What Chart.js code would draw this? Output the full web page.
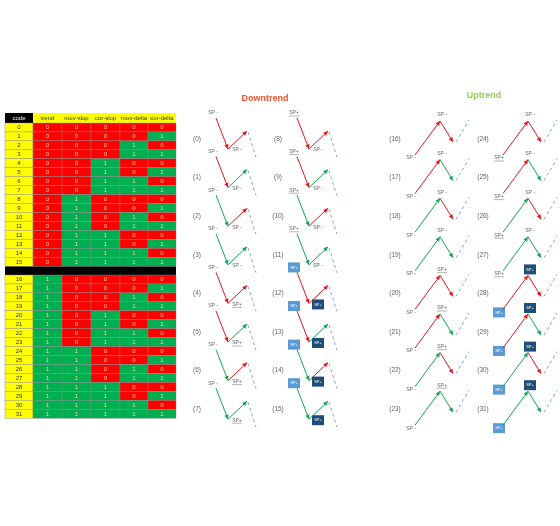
<!DOCTYPE html>
<html><head><meta charset="utf-8">
<script src="https://cdn.jsdelivr.net/npm/chart.js@4"></script>
<style>html,body{margin:0;padding:0;background:#fff}</style>
</head><body>
<canvas id="c" width="560" height="526"></canvas>
<script>
const headers = ['code','trend','mov-slop','cor-slop','mov-delta','cor-delta'];
const codes = Array.from({length:32},(_, i)=>i);
const trend    = [0,0,0,0,0,0,0,0,0,0,0,0,0,0,0,0, 1,1,1,1,1,1,1,1,1,1,1,1,1,1,1,1];
const movSlop  = [0,0,0,0,0,0,0,0,1,1,1,1,1,1,1,1, 0,0,0,0,0,0,0,0,1,1,1,1,1,1,1,1];
const corSlop  = [0,0,0,0,1,1,1,1,0,0,0,0,1,1,1,1, 0,0,0,0,1,1,1,1,0,0,0,0,1,1,1,1];
const movDelta = [0,0,1,1,0,0,1,1,0,0,1,1,0,0,1,1, 0,0,1,1,0,0,1,1,0,0,1,1,0,0,1,1];
const corDelta = [0,1,0,1,0,1,0,1,0,1,0,1,0,1,0,1, 0,1,0,1,0,1,0,1,0,1,0,1,0,1,0,1];
const titles = ['Downtrend','Uptrend'];

const RED='#e8141b', GREEN='#13a554', DASH='#7fa6d6';
const colX=[5,33,62,91,120,148,176];
function rowY(i){ return i<16 ? 123+i*8.95 : 275+(i-16)*8.95; }

function geom(code){
  const up = trend[code]===1;
  const k = code%16, col = Math.floor(k/8), r = k%8;
  if(!up){
    const x0 = 216 + col*81, y0 = 118 + r*38.6;
    return {x0,y0,pts:[[x0,y0],[x0+12,y0+31],[x0+31,y0+13]],dash:[[x0+32,y0+14],[x0+40,y0+39]],
      lab:[x0-19,y0+21], sLab:[x0-3,y0-5], mLab:[x0+21,y0+32]};
  } else {
    const x0 = 415 + col*88, y0 = 155 + r*38.6;
    return {x0,y0,pts:[[x0,y0],[x0+25,y0-34],[x0+38,y0-13]],dash:[[x0+41,y0-13],[x0+54,y0-35]],
      lab:[x0-20,y0-16], sLab:[x0-4,y0+3], mLab:[x0+27,y0-40]};
  }
}
const datasets=[];
codes.forEach(c=>{
  const g=geom(c);
  datasets.push({data:[{x:g.pts[0][0],y:g.pts[0][1]},{x:g.pts[1][0],y:g.pts[1][1]}],borderColor:movDelta[c]?GREEN:RED,arrow:true});
  datasets.push({data:[{x:g.pts[1][0],y:g.pts[1][1]},{x:g.pts[2][0],y:g.pts[2][1]}],borderColor:corDelta[c]?GREEN:RED,arrow:true});
  datasets.push({data:[{x:g.dash[0][0],y:g.dash[0][1]},{x:g.dash[1][0],y:g.dash[1][1]}],borderColor:DASH,borderDash:[3,3],arrow:false});
});
datasets.forEach(d=>{d.showLine=true;d.borderWidth=1;d.pointRadius=0;d.fill=false;});

const plugin={id:'deco',
 beforeDatasetsDraw(ch){
  const ctx=ch.ctx,X=v=>ch.scales.x.getPixelForValue(v),Y=v=>ch.scales.y.getPixelForValue(v);
  ctx.save();
  // table
  const cols=[codes,trend,movSlop,corSlop,movDelta,corDelta];
  ctx.fillStyle='#000';ctx.fillRect(X(colX[0]),Y(113),X(colX[1])-X(colX[0]),Y(123)-Y(113));
  ctx.fillStyle='#ffff00';ctx.fillRect(X(colX[1]),Y(113),X(colX[6])-X(colX[1]),Y(123)-Y(113));
  ctx.fillStyle='#000';ctx.fillRect(X(colX[0]),Y(266.2),X(colX[6])-X(colX[0]),Y(275)-Y(266.2));
  ctx.font='6px "Liberation Sans"';ctx.textAlign='center';ctx.textBaseline='middle';
  headers.forEach((h,j)=>{ctx.fillStyle=j===0?'#fff':'#333';ctx.fillText(h,X((colX[j]+colX[j+1])/2),Y(118));});
  codes.forEach(i=>{
    const y=rowY(i);
    for(let j=0;j<6;j++){
      const v=cols[j][i];
      ctx.fillStyle=j===0?'#ffff00':(v?'#00b050':'#ff0000');
      ctx.fillRect(X(colX[j]),Y(y),X(colX[j+1])-X(colX[j]),Y(y+8.95)-Y(y));
      ctx.strokeStyle='#888';ctx.lineWidth=0.4;
      ctx.strokeRect(X(colX[j]),Y(y),X(colX[j+1])-X(colX[j]),Y(y+8.95)-Y(y));
      ctx.fillStyle=j===0?'#333':'#ffd0a0';
      ctx.fillText(String(v),X((colX[j]+colX[j+1])/2),Y(y+4.6));
    }
  });
  // titles
  ctx.font='bold 9px "Liberation Sans"';
  ctx.fillStyle='#f0522d';ctx.fillText(titles[0],X(265),Y(99));
  ctx.fillStyle='#92d050';ctx.fillText(titles[1],X(484),Y(96));
  // labels
  codes.forEach(c=>{
    const g=geom(c);
    ctx.fillStyle='#666';ctx.font='6.5px "Liberation Sans"';ctx.textAlign='center';
    ctx.fillText('('+c+')',X(g.lab[0]),Y(g.lab[1]));
    const both=movSlop[c]&&corSlop[c];
    const lbl=(p,on,bg)=>{
      if(both){ctx.fillStyle=bg;ctx.fillRect(X(p[0]-6),Y(p[1]-5),12,10);
        ctx.fillStyle='#fff';ctx.font='4px "Liberation Sans"';ctx.fillText('SP+',X(p[0]),Y(p[1]));return;}
      ctx.fillStyle='#666';ctx.font='5px "Liberation Sans"';
      ctx.fillText(on?'SP+':'SP -',X(p[0]),Y(p[1]));
      if(on){ctx.strokeStyle='#666';ctx.lineWidth=0.5;ctx.beginPath();ctx.moveTo(X(p[0]-5),Y(p[1]+3));ctx.lineTo(X(p[0]+5),Y(p[1]+3));ctx.stroke();}
    };
    lbl(g.sLab,movSlop[c],'#5b9bd5');
    lbl(g.mLab,corSlop[c],'#1f4e79');
  });
  ctx.restore();
 },
 afterDatasetsDraw(ch){
  const ctx=ch.ctx;
  ch.data.datasets.forEach((d,i)=>{
    if(!d.arrow)return;
    const m=ch.getDatasetMeta(i).data,a=m[0],b=m[1];
    const ang=Math.atan2(b.y-a.y,b.x-a.x);
    ctx.save();ctx.fillStyle=d.borderColor;ctx.beginPath();
    ctx.moveTo(b.x,b.y);
    ctx.lineTo(b.x-5*Math.cos(ang-0.45),b.y-5*Math.sin(ang-0.45));
    ctx.lineTo(b.x-5*Math.cos(ang+0.45),b.y-5*Math.sin(ang+0.45));
    ctx.closePath();ctx.fill();ctx.restore();
  });
 }};

new Chart(document.getElementById('c'),{type:'scatter',data:{datasets},
 options:{responsive:false,animation:false,layout:{padding:0},
  plugins:{legend:{display:false},tooltip:{enabled:false}},
  scales:{x:{type:'linear',min:0,max:560,display:false},y:{type:'linear',min:0,max:526,reverse:true,display:false}}},
 plugins:[plugin]});
</script></body></html>
